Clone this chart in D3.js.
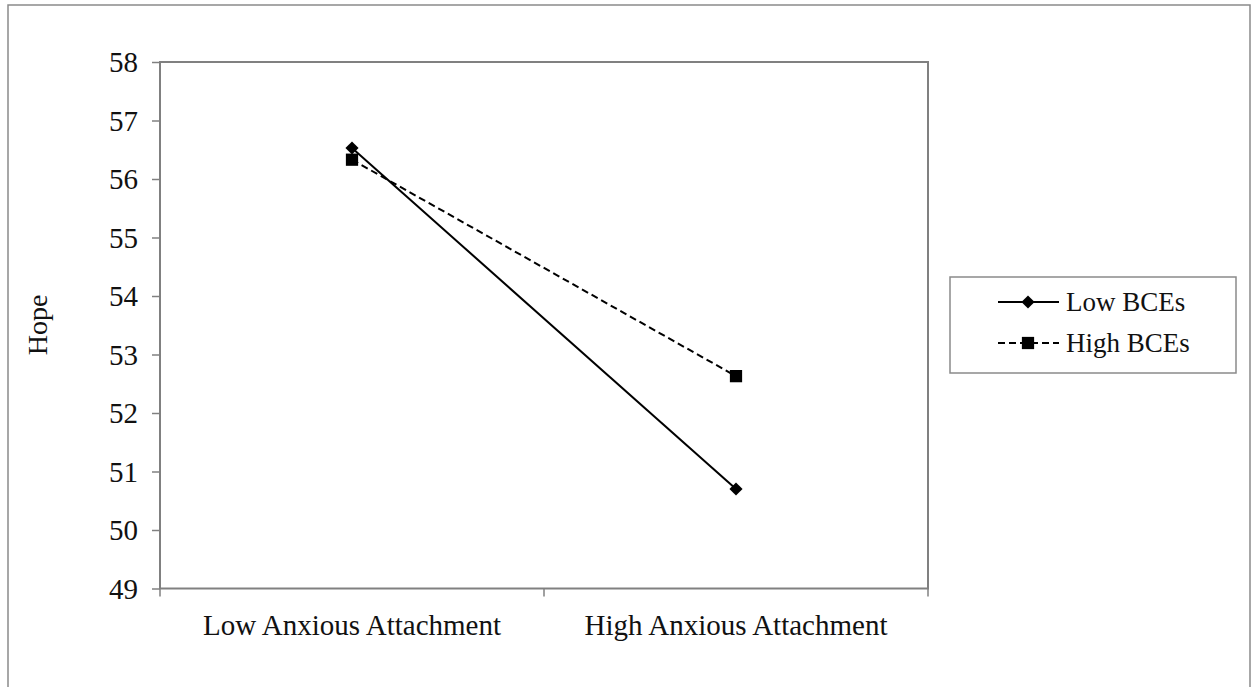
<!DOCTYPE html>
<html>
<head>
<meta charset="utf-8">
<script src="https://cdn.jsdelivr.net/npm/d3@7"></script>
<style>
  body { margin: 0; background: #fff; }
  svg { display: block; font-family: "Liberation Serif", "Times New Roman", serif; }
  svg text { font-family: "Liberation Serif", "Times New Roman", serif; }
</style>
</head>
<body>
<div id="container"></div>
<script>
var width = 1253, height = 687;

// data
var categories = ["Low Anxious Attachment", "High Anxious Attachment"];
var seriesNames = ["Low BCEs", "High BCEs"];
var lowBCEs = [56.53, 50.70];
var highBCEs = [56.33, 52.63];
var yTicks = [49, 50, 51, 52, 53, 54, 55, 56, 57, 58];

var margin = {top: 62, left: 160, right: 325, bottom: 98};

var svg = d3.select("#container").append("svg")
    .attr("width", width)
    .attr("height", height);

// outer frame
svg.append("rect")
    .attr("x", 8).attr("y", 5)
    .attr("width", 1242).attr("height", 700)
    .attr("fill", "none")
    .attr("stroke", "#8a8a8a")
    .attr("stroke-width", 1.5);

var x = d3.scaleBand()
    .domain(categories)
    .range([margin.left, width - margin.right]);

var y = d3.scaleLinear()
    .domain([49, 58])
    .range([height - margin.bottom - 0.5, margin.top]);

// plot box
svg.append("rect")
    .attr("x", margin.left).attr("y", margin.top)
    .attr("width", x.range()[1] - margin.left)
    .attr("height", y(49) - margin.top)
    .attr("fill", "none")
    .attr("stroke", "#808080")
    .attr("stroke-width", 2);

var yAxis = svg.append("g")
    .attr("transform", "translate(" + margin.left + ",0)")
    .call(d3.axisLeft(y).tickValues(yTicks).tickSize(8).tickPadding(14).tickFormat(d3.format("d")))
    .attr("font-family", null)
    .attr("font-size", null);
yAxis.select(".domain").remove();
yAxis.selectAll(".tick line").attr("stroke", "#808080").attr("stroke-width", 1.5);
yAxis.selectAll(".tick text")
    .style("font-size", "29px")
    .attr("dy", "0.34em")
    .attr("fill", "#111");

// x axis: ticks at band boundaries, labels at centres
var xb = svg.append("g")
    .attr("transform", "translate(0," + y(49) + ")");
var bounds = [x.range()[0]].concat(categories.map(function(c) { return x(c) + x.bandwidth(); }));
xb.selectAll("line.tk")
    .data(bounds)
  .enter().append("line")
    .attr("class", "tk")
    .attr("x1", function(d) { return d; })
    .attr("x2", function(d) { return d; })
    .attr("y1", 0).attr("y2", 8)
    .attr("stroke", "#808080")
    .attr("stroke-width", 1.5);
xb.selectAll("text")
    .data(categories)
  .enter().append("text")
    .attr("x", function(d) { return x(d) + x.bandwidth() / 2; })
    .attr("y", 46)
    .attr("text-anchor", "middle")
    .style("font-size", "29px")
    .attr("fill", "#111")
    .text(function(d) { return d; });

// y label
svg.append("text")
    .attr("transform", "translate(47,325) rotate(-90)")
    .attr("text-anchor", "middle")
    .style("font-size", "28px")
    .attr("fill", "#111")
    .text("Hope");

var cx = function(i) { return x(categories[i]) + x.bandwidth() / 2; };
var line = d3.line()
    .x(function(d, i) { return cx(i); })
    .y(function(d) { return y(d); });

var diamond = d3.symbol().type(d3.symbolDiamond2).size(110);
var square = d3.symbol().type(d3.symbolSquare).size(150);

// High BCEs (dashed)
svg.append("path")
    .datum(highBCEs)
    .attr("d", line)
    .attr("fill", "none")
    .attr("stroke", "#000")
    .attr("stroke-width", 2)
    .attr("stroke-dasharray", "7,4");
svg.selectAll(".sq")
    .data(highBCEs)
  .enter().append("path")
    .attr("class", "sq")
    .attr("d", square)
    .attr("transform", function(d, i) { return "translate(" + cx(i) + "," + y(d) + ")"; })
    .attr("fill", "#000");

// Low BCEs (solid)
svg.append("path")
    .datum(lowBCEs)
    .attr("d", line)
    .attr("fill", "none")
    .attr("stroke", "#000")
    .attr("stroke-width", 2);
svg.selectAll(".dm")
    .data(lowBCEs)
  .enter().append("path")
    .attr("class", "dm")
    .attr("d", diamond)
    .attr("transform", function(d, i) { return "translate(" + cx(i) + "," + y(d) + ")"; })
    .attr("fill", "#000");

// legend
var legend = svg.append("g");
legend.append("rect")
    .attr("x", 950).attr("y", 277)
    .attr("width", 286).attr("height", 96)
    .attr("fill", "none")
    .attr("stroke", "#8a8a8a")
    .attr("stroke-width", 1.5);

var rows = legend.selectAll("g.row")
    .data(seriesNames)
  .enter().append("g")
    .attr("class", "row")
    .attr("transform", function(d, i) { return "translate(0," + (302 + i * 41) + ")"; });
rows.append("line")
    .attr("x1", 998).attr("x2", 1059)
    .attr("y1", 0).attr("y2", 0)
    .attr("stroke", "#000")
    .attr("stroke-width", 2)
    .attr("stroke-dasharray", function(d, i) { return i ? "7,4" : null; });
rows.append("path")
    .attr("d", function(d, i) { return i ? square() : diamond(); })
    .attr("transform", "translate(1028,0)")
    .attr("fill", "#000");
rows.append("text")
    .attr("x", 1066)
    .attr("y", 9)
    .style("font-size", "27px")
    .attr("fill", "#111")
    .text(function(d) { return d; });
</script>
</body>
</html>
